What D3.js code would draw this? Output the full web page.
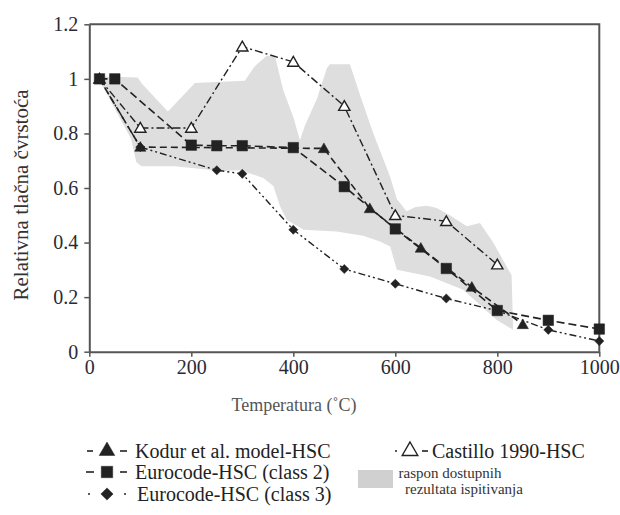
<!DOCTYPE html>
<html>
<head>
<meta charset="utf-8">
<script src="https://cdn.jsdelivr.net/npm/d3@7/dist/d3.min.js"></script>
<style>
  body { margin: 0; background: #fff; }
  svg { display: block; }
  svg text { font-family: "Liberation Serif", "Times New Roman", "DejaVu Serif", serif; }
</style>
</head>
<body>
<svg id="chart" width="620" height="515"></svg>
<script>
// ---- data ----
const xTicks = [0, 200, 400, 600, 800, 1000];
const yTicks = [0, 0.2, 0.4, 0.6, 0.8, 1.0, 1.2];
const yTickLabels = ["0", "0.2", "0.4", "0.6", "0.8", "1", "1.2"];

const kodurT = [20, 100, 460, 550, 650, 750, 850];
const kodurV = [1.0, 0.75, 0.745, 0.525, 0.38, 0.237, 0.1];

const ec2T = [20, 50, 200, 250, 300, 400, 500, 600, 700, 800, 900, 1000];
const ec2V = [1.0, 1.0, 0.757, 0.755, 0.755, 0.748, 0.605, 0.45, 0.305, 0.151, 0.115, 0.083];

const ec3T = [20, 100, 250, 300, 400, 500, 600, 700, 800, 900, 1000];
const ec3V = [1.0, 0.75, 0.665, 0.652, 0.447, 0.303, 0.249, 0.195, 0.15, 0.08, 0.039];

const castT = [20, 100, 200, 300, 400, 500, 600, 700, 800];
const castV = [1.0, 0.82, 0.82, 1.118, 1.062, 0.9, 0.5, 0.478, 0.319];

// range of available test results (outline of grey band)
const rangeT = [15, 95, 102, 154, 164, 207, 305, 324, 348, 364, 380, 400, 413, 423, 446, 466, 472, 511, 531, 557, 590, 603, 622, 640, 662, 681, 707, 740, 766, 792, 828, 831,
                799, 733, 668, 603, 590, 570, 537, 485, 420, 387, 374, 361, 341, 296, 259, 167, 102, 92, 82, 23];
const rangeV = [1.01, 1.005, 0.985, 0.88, 0.9, 0.985, 0.993, 1.045, 1.085, 1.085, 0.96, 0.86, 0.775, 0.83, 0.925, 1.04, 1.054, 1.054, 0.94, 0.8, 0.64, 0.56, 0.515, 0.53, 0.535, 0.527, 0.5, 0.46, 0.472, 0.40, 0.28, 0.08,
                0.116, 0.227, 0.276, 0.30, 0.386, 0.404, 0.425, 0.441, 0.447, 0.484, 0.533, 0.607, 0.637, 0.665, 0.662, 0.68, 0.68, 0.695, 0.78, 0.985];

const seriesNames = ["Kodur et al. model-HSC", "Eurocode-HSC (class 2)", "Eurocode-HSC (class 3)", "Castillo 1990-HSC"];
const rangeLabel = ["raspon dostupnih", "rezultata ispitivanja"];
const xTitle = "Temperatura  (˚C)";
const yTitle = "Relativna tlačna čvrstoća";

// ---- drawing ----
const FONT = '"Liberation Serif", "Times New Roman", "DejaVu Serif", serif';
const svg = d3.select("#chart").style("font-family", FONT);
const x = d3.scaleLinear().domain([0, 1000]).range([89.3, 599.3]);
const y = d3.scaleLinear().domain([0, 1.2]).range([351.7, 24.3]);
const ink = "#222";
const axisCol = "#555";

// grey band
svg.append("path")
  .attr("d", d3.line().x((d, i) => x(rangeT[i])).y((d, i) => y(rangeV[i])).curve(d3.curveLinearClosed)(rangeT))
  .attr("fill", "#dedede");

// frame top/right
svg.append("path")
  .attr("d", `M${x(0)},${y(1.2)}H${x(1000)}V${y(0)}`)
  .attr("fill", "none").attr("stroke", axisCol).attr("stroke-width", 2);

// axes
const xAxis = svg.append("g").attr("transform", `translate(0,${y(0)})`)
  .call(d3.axisBottom(x).tickValues(xTicks).tickFormat(d3.format("d")).tickSize(5).tickSizeOuter(0).tickPadding(3));
const yAxis = svg.append("g").attr("transform", `translate(${x(0)},0)`)
  .call(d3.axisLeft(y).tickValues(yTicks).tickFormat((d, i) => yTickLabels[i]).tickSize(5).tickSizeOuter(0).tickPadding(6));
[xAxis, yAxis].forEach(g => {
  g.attr("font-family", FONT);
  g.select(".domain").attr("stroke", axisCol).attr("stroke-width", 2);
  g.selectAll(".tick line").attr("stroke", axisCol).attr("stroke-width", 1.5);
  g.selectAll(".tick text").attr("fill", "#2a2a35").attr("font-size", 20);
});

// titles
svg.append("text").attr("x", 294).attr("y", 411).attr("text-anchor", "middle")
  .attr("font-size", 18).attr("fill", "#555").text(xTitle);
svg.append("text").attr("transform", `translate(28,195) rotate(-90)`).attr("text-anchor", "middle")
  .attr("font-size", 21).attr("fill", "#333").text(yTitle);

// lines
function series(T, V, dash, width) {
  svg.append("path")
    .attr("d", d3.line().x((d, i) => x(T[i])).y((d, i) => y(V[i]))(T))
    .attr("fill", "none").attr("stroke", ink).attr("stroke-width", width)
    .attr("stroke-dasharray", dash);
}
const dashK = "7,4", dash2 = "8,4", dash3 = "7,3,2,3,2,3", dashC = "8,3,2,3";
series(castT, castV, dashC, 1.4);
series(ec3T, ec3V, dash3, 1.4);
series(kodurT, kodurV, dashK, 1.6);
series(ec2T, ec2V, dash2, 1.6);

// markers
const sym = {
  tri: { s: d3.symbol().type(d3.symbolTriangle).size(55), rot: 0, dy: 1 },
  sq: { s: d3.symbol().type(d3.symbolSquare).size(110), rot: 0, dy: 0 },
  dia: { s: d3.symbol().type(d3.symbolSquare).size(42), rot: 45, dy: 0 },
  otri: { s: d3.symbol().type(d3.symbolTriangle).size(55), rot: 0, dy: 1 }
};
function markers(T, V, m, filled) {
  svg.append("g").selectAll("path").data(T).join("path")
    .attr("transform", (d, i) => `translate(${x(d)},${y(V[i]) + m.dy}) rotate(${m.rot})`)
    .attr("d", m.s())
    .attr("fill", filled ? ink : "#fff").attr("stroke", ink).attr("stroke-width", filled ? 0.5 : 1.4);
}
markers(castT, castV, sym.otri, false);
markers(ec3T, ec3V, sym.dia, true);
markers(kodurT, kodurV, sym.tri, true);
markers(ec2T, ec2V, sym.sq, true);

// legend
const lg = svg.append("g");
const legFont = 20;
function legRow(cx, cy, m, filled, leftDash, rightDash, label, tx) {
  lg.append("line").attr("x1", leftDash[0]).attr("x2", leftDash[1]).attr("y1", cy).attr("y2", cy)
    .attr("stroke", ink).attr("stroke-width", 1.6);
  lg.append("line").attr("x1", rightDash[0]).attr("x2", rightDash[1]).attr("y1", cy).attr("y2", cy)
    .attr("stroke", ink).attr("stroke-width", 1.6);
  lg.append("path").attr("transform", `translate(${cx},${cy + m.dy}) rotate(${m.rot})`).attr("d", m.s())
    .attr("fill", filled ? ink : "#fff").attr("stroke", ink).attr("stroke-width", filled ? 0.5 : 1.4);
  lg.append("text").attr("x", tx).attr("y", cy + 7).attr("font-size", legFont).attr("fill", "#222").text(label);
}
const bigTri = { s: d3.symbol().type(d3.symbolTriangle).size(105), rot: 0, dy: 0 };
const bigSq = { s: d3.symbol().type(d3.symbolSquare).size(130), rot: 0, dy: 0 };
const bigDia = { s: d3.symbol().type(d3.symbolSquare).size(75), rot: 45, dy: 0 };
legRow(107, 451, bigTri, true, [87, 93], [120, 127], seriesNames[0], 135);
legRow(107, 472, bigSq, true, [86, 94], [120, 127], seriesNames[1], 135);
legRow(107, 494, bigDia, true, [88, 90], [124, 126], seriesNames[2], 137);
legRow(410, 451, bigTri, false, [395, 397], [422, 428], seriesNames[3], 432);
lg.append("rect").attr("x", 358).attr("y", 470).attr("width", 35).attr("height", 18).attr("fill", "#d0d0d0");
lg.append("text").attr("x", 450).attr("y", 478).attr("text-anchor", "middle").attr("font-size", 15).attr("fill", "#333").text(rangeLabel[0]);
lg.append("text").attr("x", 405).attr("y", 494).attr("font-size", 15).attr("fill", "#333").text(rangeLabel[1]);
</script>
</body>
</html>
